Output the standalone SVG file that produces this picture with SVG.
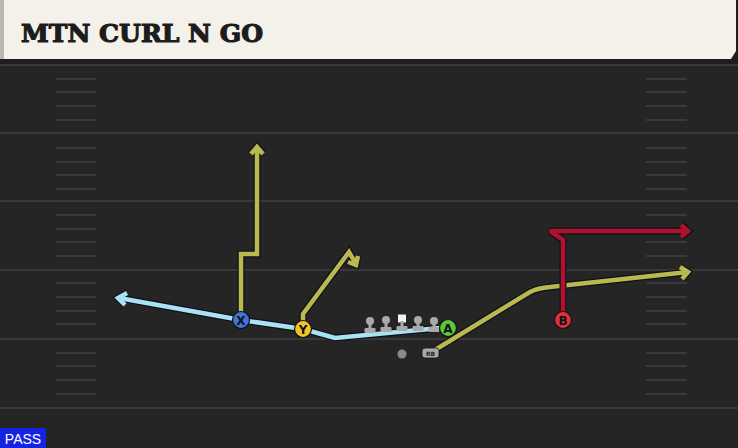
<svg xmlns="http://www.w3.org/2000/svg" width="738" height="448" viewBox="0 0 738 448">
<defs>
<style>
.yl{stroke:#393939;stroke-width:2}
.hm{stroke:#3a3a3a;stroke-width:2;stroke-linecap:round}
.ol{fill:none;stroke:#10101c;stroke-width:7;stroke-linejoin:miter;stroke-miterlimit:3;stroke-linecap:butt}
.yel{fill:none;stroke:#b9b950;stroke-width:4.5;stroke-linejoin:miter;stroke-miterlimit:3}
.blu{fill:none;stroke:#a9e2f2;stroke-width:4.5;stroke-linejoin:miter;stroke-miterlimit:3}
.red{fill:none;stroke:#b0112c;stroke-width:4.5;stroke-linejoin:miter;stroke-miterlimit:3}
.pl{stroke:#111;stroke-width:1.2}
.lt{font-family:"DejaVu Sans","Liberation Sans",sans-serif;font-weight:bold;font-size:12px;text-anchor:middle;fill:#111}
.ln{fill:#a9a9a9}
</style>
</defs>
<rect x="0" y="0" width="738" height="448" fill="#252525"/>
<g id="field">
<line class="yl" x1="0" y1="65" x2="738" y2="65"/>
<line class="yl" x1="0" y1="133" x2="738" y2="133"/>
<line class="yl" x1="0" y1="201" x2="738" y2="201"/>
<line class="yl" x1="0" y1="270" x2="738" y2="270"/>
<line class="yl" x1="0" y1="339" x2="738" y2="339"/>
<line class="yl" x1="0" y1="408" x2="738" y2="408"/>
<g id="hashes-left">
<line class="hm" x1="57" y1="79" x2="95" y2="79"/><line class="hm" x1="57" y1="92" x2="95" y2="92"/><line class="hm" x1="57" y1="106" x2="95" y2="106"/><line class="hm" x1="57" y1="120" x2="95" y2="120"/>
<line class="hm" x1="57" y1="148" x2="95" y2="148"/><line class="hm" x1="57" y1="162" x2="95" y2="162"/><line class="hm" x1="57" y1="175" x2="95" y2="175"/><line class="hm" x1="57" y1="189" x2="95" y2="189"/>
<line class="hm" x1="57" y1="215" x2="95" y2="215"/><line class="hm" x1="57" y1="229" x2="95" y2="229"/><line class="hm" x1="57" y1="242" x2="95" y2="242"/><line class="hm" x1="57" y1="256" x2="95" y2="256"/>
<line class="hm" x1="57" y1="283" x2="95" y2="283"/><line class="hm" x1="57" y1="297" x2="95" y2="297"/><line class="hm" x1="57" y1="311" x2="95" y2="311"/><line class="hm" x1="57" y1="324" x2="95" y2="324"/>
<line class="hm" x1="57" y1="353" x2="95" y2="353"/><line class="hm" x1="57" y1="366" x2="95" y2="366"/><line class="hm" x1="57" y1="380" x2="95" y2="380"/><line class="hm" x1="57" y1="394" x2="95" y2="394"/>
</g>
<g id="hashes-right">
<line class="hm" x1="647" y1="79" x2="686" y2="79"/><line class="hm" x1="647" y1="92" x2="686" y2="92"/><line class="hm" x1="647" y1="106" x2="686" y2="106"/><line class="hm" x1="647" y1="120" x2="686" y2="120"/>
<line class="hm" x1="647" y1="148" x2="686" y2="148"/><line class="hm" x1="647" y1="162" x2="686" y2="162"/><line class="hm" x1="647" y1="175" x2="686" y2="175"/><line class="hm" x1="647" y1="189" x2="686" y2="189"/>
<line class="hm" x1="647" y1="215" x2="686" y2="215"/><line class="hm" x1="647" y1="229" x2="686" y2="229"/><line class="hm" x1="647" y1="242" x2="686" y2="242"/><line class="hm" x1="647" y1="256" x2="686" y2="256"/>
<line class="hm" x1="647" y1="283" x2="686" y2="283"/><line class="hm" x1="647" y1="297" x2="686" y2="297"/><line class="hm" x1="647" y1="311" x2="686" y2="311"/><line class="hm" x1="647" y1="324" x2="686" y2="324"/>
<line class="hm" x1="647" y1="353" x2="686" y2="353"/><line class="hm" x1="647" y1="366" x2="686" y2="366"/><line class="hm" x1="647" y1="380" x2="686" y2="380"/><line class="hm" x1="647" y1="394" x2="686" y2="394"/>
</g>
</g>
<g id="header">
<rect x="0" y="0" width="738" height="64" fill="#1e1e1e"/>
<polygon points="0,0 736,0 736,51 731,59 0,59" fill="#f4f1ea"/>
<rect x="0" y="0" width="4" height="59" fill="#b9b7b2"/>
<text x="21" y="42" font-family="DejaVu Serif,Liberation Serif,serif" font-weight="bold" font-size="25" fill="#1c1c1c" stroke="#1c1c1c" stroke-width="1.2" textLength="242" lengthAdjust="spacingAndGlyphs">MTN CURL N GO</text>
</g>
<g id="connectors">
<!-- A route (light blue) -->
<polyline class="ol" points="440,328 335,338 303,329 241,320 119,298"/>
<polyline class="ol" points="127,293 118,298 125,305"/>
<polyline class="blu" points="440,328 335,338 303,329 241,320 119,298"/>
<polyline class="blu" points="127,293 118,298 125,305"/>
<!-- X route -->
<polyline class="ol" points="241,320 241,254 257,254 257,147"/>
<polyline class="ol" points="251,154 257,147 263,154"/>
<polyline class="yel" points="241,320 241,254 257,254 257,147"/>
<polyline class="yel" points="251,154 257,147 263,154"/>
<!-- Y route -->
<polyline class="ol" points="303,329 303,314 349,252 356,264"/>
<polyline class="ol" points="348,262 356,265 358,256"/>
<polyline class="yel" points="303,329 303,314 349,252 356,264"/>
<polyline class="yel" points="348,262 356,265 358,256"/>
<!-- RB route -->
<path class="ol" d="M430,353 L530,292 Q538,288 550,287 L688,272"/>
<polyline class="ol" points="680,267 688,272 682,279"/>
<path class="yel" d="M430,353 L530,292 Q538,288 550,287 L688,272"/>
<polyline class="yel" points="680,267 688,272 682,279"/>
<!-- B route -->
<polyline class="ol" points="563,320 563,240 550,231 688,231"/>
<polyline class="ol" points="681,225 688,231 681,237"/>
<polyline class="red" points="563,320 563,240 550,231 688,231"/>
<polyline class="red" points="681,225 688,231 681,237"/>
</g>
<g id="line">
<g id="lt1"><circle class="ln" cx="370" cy="321" r="4"/><rect class="ln" x="368.5" y="321" width="3" height="9"/><rect class="ln" x="364.5" y="328" width="11" height="5" rx="1"/></g>
<g id="lg1"><circle class="ln" cx="386" cy="320" r="4"/><rect class="ln" x="384.5" y="320" width="3" height="9"/><rect class="ln" x="380.5" y="327" width="11" height="5" rx="1"/></g>
<g id="center"><rect x="398" y="314.5" width="8" height="8" fill="#f2f2f2"/><rect class="ln" x="400.5" y="321" width="3" height="7"/><rect class="ln" x="396.5" y="326" width="11" height="5" rx="1"/></g>
<g id="rg1"><circle class="ln" cx="418" cy="320" r="4"/><rect class="ln" x="416.5" y="320" width="3" height="8"/><rect class="ln" x="412.5" y="326" width="11" height="5" rx="1"/></g>
<g id="rt1"><circle class="ln" cx="434" cy="321" r="4"/><rect class="ln" x="432.5" y="321" width="3" height="8"/><rect class="ln" x="428.5" y="327" width="11" height="5" rx="1"/></g>
</g>
<g id="qb"><circle cx="402" cy="354" r="4.5" fill="#8a8a8a"/></g>
<g id="rb"><rect x="422" y="348" width="17" height="10" rx="3" fill="#a9a9a9" stroke="#111" stroke-width="0.8"/><text x="430.5" y="356" font-family="DejaVu Sans,Liberation Sans,sans-serif" font-weight="bold" font-size="6" text-anchor="middle" fill="#222">RB</text></g>
<g id="X"><circle class="pl" cx="241" cy="320" r="8.5" fill="#3f74d8"/><text class="lt" x="241" y="324.5">X</text></g>
<g id="Y"><circle class="pl" cx="303" cy="329" r="8.5" fill="#f0c428"/><text class="lt" x="303" y="333.5">Y</text></g>
<g id="A"><circle class="pl" cx="448" cy="328" r="8.5" fill="#5cc63c"/><text class="lt" x="448" y="332.5">A</text></g>
<g id="B"><circle class="pl" cx="563" cy="320" r="8.5" fill="#e0303c"/><text class="lt" x="563" y="324.5">B</text></g>
<g id="pass"><rect x="0" y="428" width="46" height="20" fill="#1424e0"/><text x="23" y="444" font-family="Liberation Sans,Arial,sans-serif" font-size="14" text-anchor="middle" fill="#ffffff">PASS</text></g>
</svg>
